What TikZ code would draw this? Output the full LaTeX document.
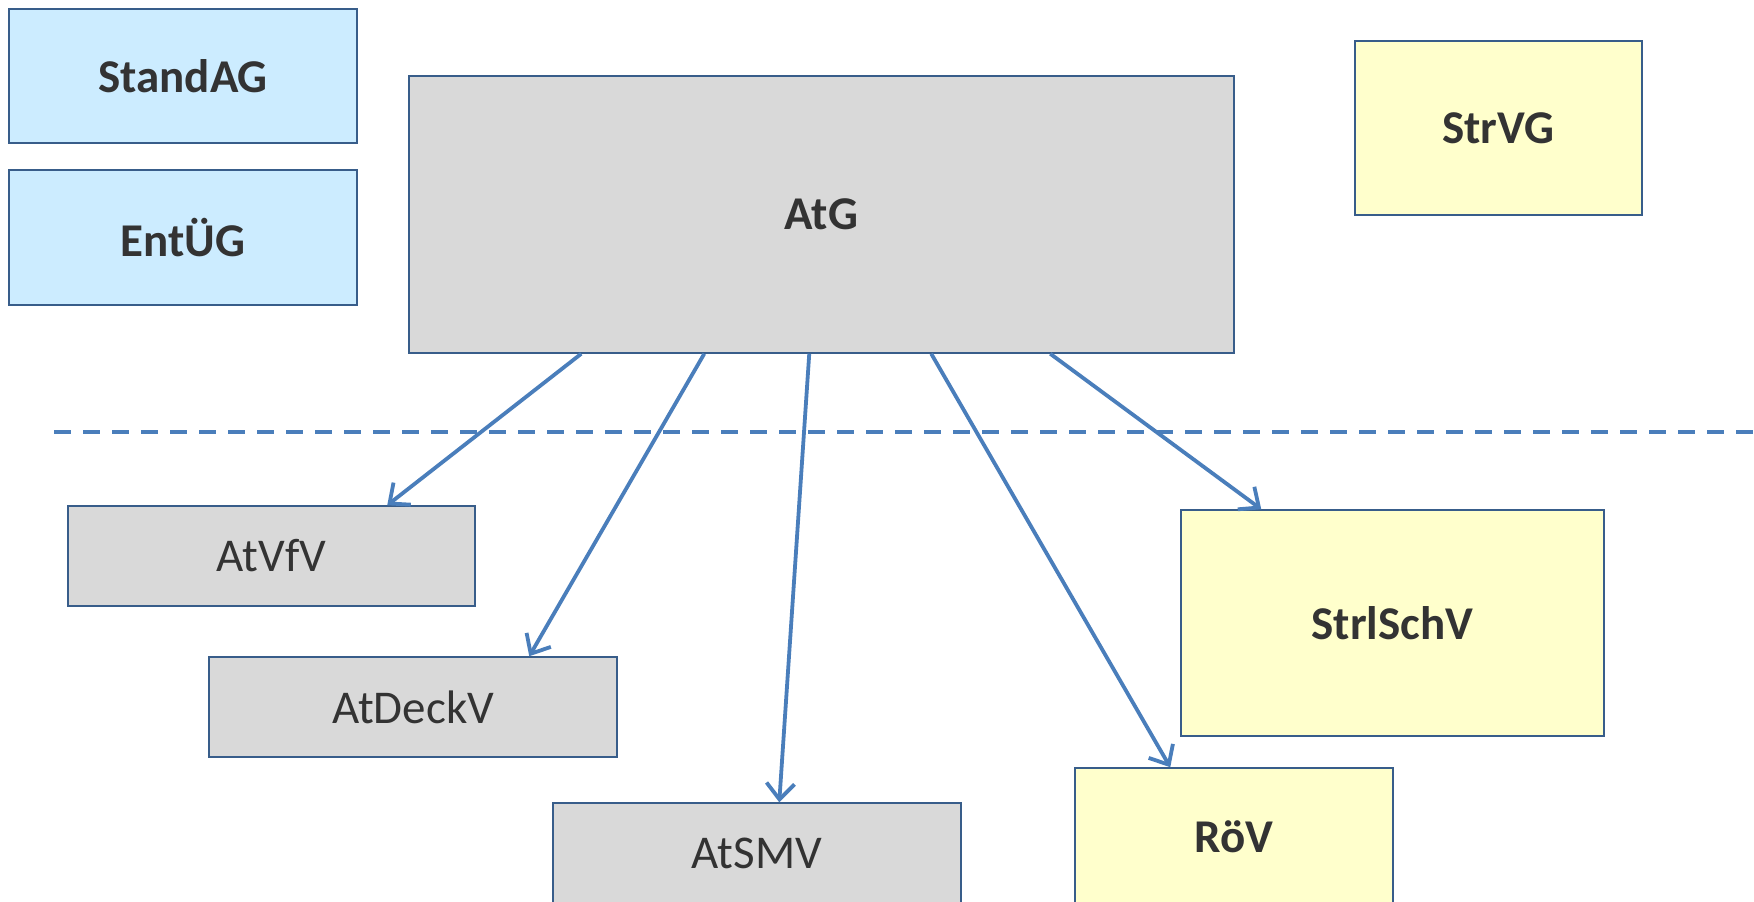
\documentclass[tikz,border=0pt]{standalone}
\usepackage{fontspec}
\setmainfont{Carlito}
\usetikzlibrary{arrows.meta}
\definecolor{edgeblue}{RGB}{56,93,138}
\definecolor{linkblue}{RGB}{74,126,187}
\definecolor{fillblue}{RGB}{204,236,255}
\definecolor{fillgray}{RGB}{217,217,217}
\definecolor{fillyellow}{RGB}{255,255,204}
\definecolor{txt}{RGB}{51,51,51}
\tikzset{
  box/.style={draw=edgeblue, line width=1.5pt, rectangle, inner sep=0pt, text=txt,
    font=\fontsize{47}{56}\selectfont},
  boldbox/.style={box, font=\fontsize{47}{56}\selectfont\bfseries},
  bluebox/.style={boldbox, fill=fillblue},
  graybox/.style={box, fill=fillgray},
  yellowbox/.style={boldbox, fill=fillyellow},
  link/.style={draw=linkblue, line width=3.8pt, -{Straight Barb[length=16pt,width=28pt]}},
  divider/.style={draw=linkblue, line width=4pt, dash pattern=on 17pt off 12pt}
}
\begin{document}
\begin{tikzpicture}[x=1pt,y=-1pt]
\useasboundingbox (0,0) rectangle (1754,902);
\node[bluebox, minimum width=348pt, minimum height=134pt] (StandAG) at (183,76) {StandAG};
\node[bluebox, minimum width=348pt, minimum height=135pt] (EntUG) at (183,237.5) {EntÜG};
\node[graybox, font=\fontsize{47}{56}\selectfont\bfseries, minimum width=825pt, minimum height=277pt] (AtG) at (821.5,214.5) {AtG};
\node[yellowbox, minimum width=287pt, minimum height=174pt] (StrVG) at (1498.5,128) {StrVG};
\node[graybox, minimum width=407pt, minimum height=100pt] (AtVfV) at (271.5,556) {AtVfV};
\node[graybox, minimum width=408pt, minimum height=100pt] (AtDeckV) at (413,707) {AtDeckV};
\node[graybox, minimum width=408pt, minimum height=100pt] (AtSMV) at (757,853) {AtSMV};
\node[yellowbox, minimum width=423pt, minimum height=226pt] (StrlSchV) at (1392.5,623) {StrlSchV};
\node[yellowbox, minimum width=318pt, minimum height=138pt] (RoV) at (1234,837) {RöV};
\coordinate (divL) at (54,432);
\coordinate (divR) at (1754,432);
\draw[divider] (divL) -- (divR);
\draw[link] ([xshift=173pt]AtG.south west) -- ([xshift=320pt]AtVfV.north west);
\draw[link] ([xshift=296pt]AtG.south west) -- ([xshift=321pt]AtDeckV.north west);
\draw[link] ([xshift=401pt]AtG.south west) -- ([xshift=227pt]AtSMV.north west);
\draw[link] ([xshift=523pt]AtG.south west) -- ([xshift=96pt]RoV.north west);
\draw[link] ([xshift=642pt]AtG.south west) -- ([xshift=81pt]StrlSchV.north west);
\end{tikzpicture}
\end{document}
